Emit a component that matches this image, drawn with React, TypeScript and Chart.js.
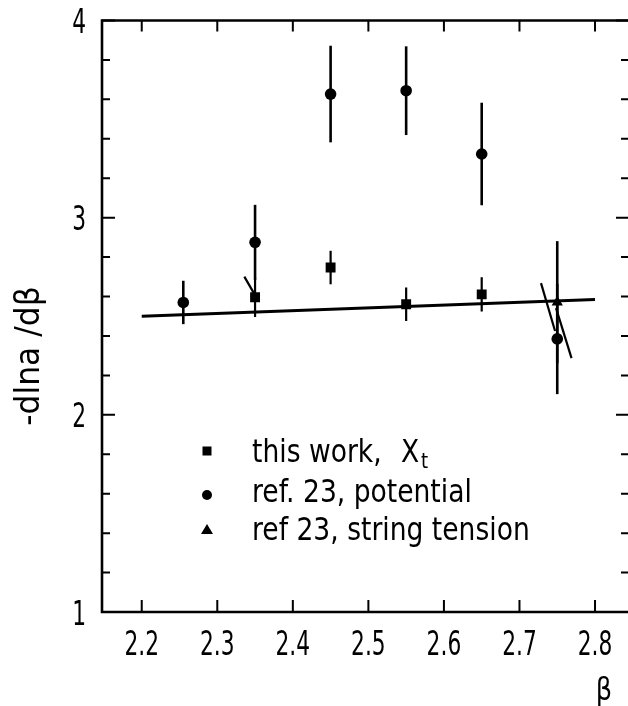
import { useEffect, useRef } from "react";
import { Chart, registerables } from "chart.js";

Chart.register(...registerables);

const FONT = "'DejaVu Sans', 'Liberation Sans', sans-serif";

// axis ranges and ticks
const X_MIN = 2.1474;
const X_MAX = 2.8463;
const Y_MIN = 1;
const Y_MAX = 4;
const xTickValues = [2.2, 2.3, 2.4, 2.5, 2.6, 2.7, 2.8];
const yTickValues = [1, 2, 3, 4];
const yMinorValues = [1.2, 1.4, 1.6, 1.8, 2.2, 2.4, 2.6, 2.8, 3.2, 3.4, 3.6, 3.8];

// ref. 23, potential (circles)
const potBeta = [2.255, 2.35, 2.45, 2.55, 2.65, 2.75];
const potValues = [2.57, 2.875, 3.627, 3.644, 3.323, 2.385];
const potErrors = [0.11, 0.19, 0.245, 0.225, 0.26, 0.28];

// this work, X_t (squares)
const workBeta = [2.35, 2.45, 2.55, 2.65];
const workValues = [2.596, 2.747, 2.561, 2.611];
const workErrors = [0.1, 0.085, 0.085, 0.087];

// ref 23, string tension (triangle)
const stringBeta = [2.75];
const stringValues = [2.571];
const stringErrors = [0.31];

// straight fit line
const fitBeta = [2.2, 2.8];
const fitValues = [2.5, 2.585];

// short slanted lines
const slantA_Beta = [2.3358, 2.3486];
const slantA_Values = [2.701, 2.616];
const slantB_Beta = [2.7285, 2.7471];
const slantB_Values = [2.668, 2.425];
const slantC_Beta = [2.7484, 2.7689];
const slantC_Values = [2.541, 2.288];

const legendLabels = ["this work,", "ref. 23, potential", "ref 23, string tension"];
const legendSymbol = "X";
const legendSub = "t";
const xTitle = "β";
const yTitle = "-dlna /dβ";

const pts = (xs: number[], ys: number[]) => xs.map((x, i) => ({ x, y: ys[i] }));

function drawText(
  ctx: CanvasRenderingContext2D,
  text: string,
  x: number,
  y: number,
  size: number,
  hscale: number,
  align: CanvasTextAlign,
  baseline: CanvasTextBaseline = "alphabetic"
) {
  ctx.save();
  ctx.translate(x, y);
  ctx.scale(hscale, 1);
  ctx.font = `${size}px ${FONT}`;
  ctx.textAlign = align;
  ctx.textBaseline = baseline;
  ctx.fillText(text, 0, 0);
  ctx.restore();
}

export default function App() {
  const ref = useRef<HTMLCanvasElement>(null);

  useEffect(() => {
    const canvas = ref.current!;
    const errorMap: Record<number, { errs: number[]; width: number }> = {
      4: { errs: potErrors, width: 2.6 },
      5: { errs: workErrors, width: 2.2 },
      6: { errs: stringErrors, width: 2.6 },
    };

    const errorBarPlugin = {
      id: "errorBars",
      beforeDatasetsDraw(chart: any) {
        const ctx = chart.ctx;
        const xs = chart.scales.x;
        const ys = chart.scales.y;
        ctx.save();
        ctx.strokeStyle = "#000";
        Object.keys(errorMap).forEach((k) => {
          const i = Number(k);
          const ds = chart.data.datasets[i];
          const { errs, width } = errorMap[i];
          ctx.lineWidth = width;
          ds.data.forEach((p: any, j: number) => {
            const px = xs.getPixelForValue(p.x);
            ctx.beginPath();
            ctx.moveTo(px, ys.getPixelForValue(p.y - errs[j]));
            ctx.lineTo(px, ys.getPixelForValue(p.y + errs[j]));
            ctx.stroke();
          });
        });
        ctx.restore();
      },
    };

    const framePlugin = {
      id: "frame",
      afterDraw(chart: any) {
        const ctx = chart.ctx as CanvasRenderingContext2D;
        const { left, right, top, bottom } = chart.chartArea;
        const xs = chart.scales.x;
        const ys = chart.scales.y;
        ctx.save();
        ctx.strokeStyle = "#000";
        ctx.fillStyle = "#000";
        ctx.lineWidth = 2.6;
        ctx.lineCap = "square";
        ctx.beginPath();
        ctx.moveTo(right, top);
        ctx.lineTo(left, top);
        ctx.lineTo(left, bottom);
        ctx.lineTo(right, bottom);
        ctx.lineTo(right, top);
        ctx.stroke();
        ctx.lineCap = "butt";
        ctx.lineWidth = 2;
        // x ticks (bottom and top, inward) + labels
        xTickValues.forEach((v) => {
          const px = xs.getPixelForValue(v);
          ctx.beginPath();
          ctx.moveTo(px, bottom);
          ctx.lineTo(px, bottom - 12);
          ctx.moveTo(px, top);
          ctx.lineTo(px, top + 11);
          ctx.stroke();
          drawText(ctx, v.toFixed(1), px, 655, 34, 0.64, "center");
        });
        // y ticks left and right + labels
        yMinorValues.forEach((v) => {
          const py = ys.getPixelForValue(v);
          ctx.beginPath();
          ctx.moveTo(left, py);
          ctx.lineTo(left + 8, py);
          ctx.moveTo(right, py);
          ctx.lineTo(right - 9, py);
          ctx.stroke();
        });
        yTickValues.forEach((v) => {
          const py = ys.getPixelForValue(v);
          ctx.beginPath();
          ctx.moveTo(left, py);
          ctx.lineTo(left + 13, py);
          ctx.moveTo(right, py);
          ctx.lineTo(right - 14, py);
          ctx.stroke();
          drawText(ctx, String(v), 86, py + 12.5, 34, 0.64, "right");
        });

        // axis titles
        ctx.save();
        ctx.translate(30, 356);
        ctx.rotate(-Math.PI / 2);
        drawText(ctx, yTitle, 0, 0, 33, 0.95, "center", "middle");
        ctx.restore();
        drawText(ctx, xTitle, 604, 700, 32, 0.8, "center");

        // legend
        const lx = 207;
        const tx = 252;
        const baselines = [462, 502, 540];
        const markerY = [451, 495, 530];
        legendLabels.forEach((t, i) => {
          drawText(ctx, t, tx, baselines[i], 32, 0.83, "left");
        });
        drawText(ctx, legendSymbol, 401, baselines[0], 32, 0.83, "left");
        drawText(ctx, legendSub, 421, baselines[0] + 6, 22, 0.83, "left");
        // legend markers
        ctx.fillRect(lx - 4.5, markerY[0] - 4.5, 9, 9);
        ctx.beginPath();
        ctx.arc(lx, markerY[1], 5, 0, Math.PI * 2);
        ctx.fill();
        ctx.beginPath();
        ctx.moveTo(lx, markerY[2] - 6);
        ctx.lineTo(lx + 6, markerY[2] + 4);
        ctx.lineTo(lx - 6, markerY[2] + 4);
        ctx.closePath();
        ctx.fill();
        ctx.restore();
      },
    };

    const lineDs = (data: any[], w: number) => ({
      type: "line" as const,
      data,
      borderColor: "#000",
      borderWidth: w,
      pointRadius: 0,
      showLine: true,
      fill: false,
    });

    const chart = new Chart(canvas, {
      type: "scatter",
      data: {
        datasets: [
          lineDs(pts(fitBeta, fitValues), 2.8),
          lineDs(pts(slantA_Beta, slantA_Values), 2.2),
          lineDs(pts(slantB_Beta, slantB_Values), 2.2),
          lineDs(pts(slantC_Beta, slantC_Values), 2.2),
          {
            data: pts(potBeta, potValues),
            pointStyle: "circle",
            pointRadius: 5.8,
            backgroundColor: "#000",
            borderColor: "#000",
            borderWidth: 0,
          },
          {
            data: pts(workBeta, workValues),
            pointStyle: "rect",
            pointRadius: 7,
            backgroundColor: "#000",
            borderColor: "#000",
            borderWidth: 0,
          },
          {
            data: pts(stringBeta, stringValues),
            pointStyle: "triangle",
            pointRadius: 6.5,
            backgroundColor: "#000",
            borderColor: "#000",
            borderWidth: 0,
          },
        ] as any,
      },
      options: {
        animation: false,
        responsive: false,
        maintainAspectRatio: false,
        devicePixelRatio: 1,
        layout: { padding: { left: 0, right: 10, top: 20.5, bottom: 0 } },
        plugins: { legend: { display: false }, tooltip: { enabled: false } },
        scales: {
          x: {
            type: "linear",
            min: X_MIN,
            max: X_MAX,
            grid: { display: false, drawTicks: false },
            border: { display: false },
            afterBuildTicks: (s: any) => {
              s.ticks = xTickValues.map((v) => ({ value: v }));
            },
            afterFit: (s: any) => {
              s.height = 94;
            },
            ticks: { display: false },
          },
          y: {
            type: "linear",
            min: Y_MIN,
            max: Y_MAX,
            grid: { display: false, drawTicks: false },
            border: { display: false },
            afterBuildTicks: (s: any) => {
              s.ticks = yTickValues.map((v) => ({ value: v }));
            },
            afterFit: (s: any) => {
              s.width = 102;
            },
            ticks: { display: false },
          },
        },
      } as any,
      plugins: [errorBarPlugin, framePlugin],
    });
    return () => chart.destroy();
  }, []);

  return (
    <div
      style={{
        position: "fixed",
        left: 0,
        top: 0,
        width: 628,
        height: 706,
        overflow: "hidden",
        background: "#fff",
      }}
    >
      <canvas ref={ref} width={640} height={706} style={{ display: "block", width: 640, height: 706 }} />
    </div>
  );
}
